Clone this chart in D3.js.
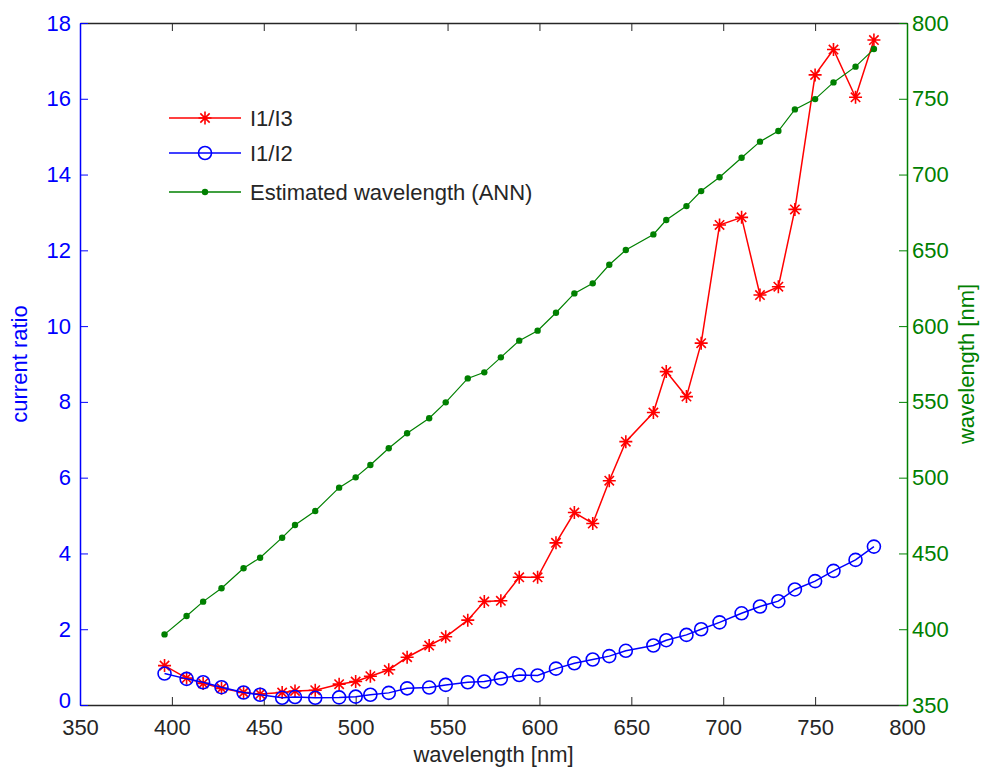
<!DOCTYPE html>
<html>
<head>
<meta charset="utf-8">
<script src="https://cdn.jsdelivr.net/npm/d3@7"></script>
<style>
  body { margin: 0; background: #fff; }
  svg { display: block; font-family: "Liberation Sans", Arial, sans-serif; }
</style>
</head>
<body>
<svg id="chart"></svg>
<script>
const width = 981;
const height = 769;
const margin = { top: 23, right: 74, bottom: 64, left: 80 };

// measured wavelength (x) for every sample
const wavelength = [396, 408, 417, 427, 439, 448, 460, 467, 478, 491, 500, 508, 518,
    528, 540, 549, 561, 570, 579, 589, 599, 609, 619, 629, 638,
    647, 662, 669, 680, 688, 698, 710, 720, 730, 739, 750, 760, 772, 782];

const ratioI1I3 = [1.04, 0.71, 0.57, 0.44, 0.33, 0.29, 0.33, 0.37, 0.39, 0.55, 0.62, 0.76, 0.93,
    1.26, 1.57, 1.80, 2.24, 2.73, 2.75, 3.37, 3.37, 4.28, 5.08, 4.79, 5.92,
    6.95, 7.72, 8.80, 8.14, 9.55, 12.67, 12.87, 10.82, 11.04, 13.08, 16.63, 17.30, 16.04, 17.55];

const ratioI1I2 = [0.83, 0.69, 0.60, 0.47, 0.33, 0.27, 0.19, 0.21, 0.19, 0.20, 0.22, 0.27, 0.32,
    0.44, 0.46, 0.53, 0.60, 0.62, 0.70, 0.79, 0.78, 0.96, 1.10, 1.20, 1.29,
    1.43, 1.57, 1.71, 1.85, 2.00, 2.18, 2.42, 2.60, 2.74, 3.05, 3.27, 3.54, 3.83, 4.18];

const estimatedAnn = [396.6, 408.7, 418.2, 427.0, 440.2, 447.2, 460.4, 468.8, 478.0, 493.4, 500.2, 508.4, 519.4,
    529.3, 539.2, 549.7, 565.5, 569.5, 579.4, 590.4, 597.0, 608.8, 621.6, 628.2, 640.5,
    650.2, 660.5, 670.0, 679.2, 689.1, 698.2, 711.1, 721.7, 728.7, 743.0, 749.8, 760.8, 771.2, 782.8];

const xTicks = [350, 400, 450, 500, 550, 600, 650, 700, 750, 800];
const leftTicks = [0, 2, 4, 6, 8, 10, 12, 14, 16, 18];
const rightTicks = [350, 400, 450, 500, 550, 600, 650, 700, 750, 800];

const legendLabels = ["I1/I3", "I1/I2", "Estimated wavelength (ANN)"];

const red = "#ff0000", blue = "#0000ff", green = "#008000";
const axisBlack = "#262626";
const fontSize = "22px";

const svg = d3.select("#chart").attr("width", width).attr("height", height);

const x = d3.scaleLinear().domain([350, 800]).range([margin.left, width - margin.right]);
const yL = d3.scaleLinear().domain([0, 18]).range([height - margin.bottom, margin.top]);
const yR = d3.scaleLinear().domain([350, 800]).range([height - margin.bottom, margin.top]);

// Axes
const gBottom = svg.append("g")
    .attr("transform", `translate(0, ${height - margin.bottom})`)
    .call(d3.axisBottom(x).tickValues(xTicks).tickSizeInner(-8).tickSizeOuter(0).tickPadding(14));
gBottom.selectAll("path, line").attr("stroke", axisBlack);
gBottom.selectAll("text").attr("fill", axisBlack).style("font-size", fontSize);

const gTop = svg.append("g")
    .attr("transform", `translate(0, ${margin.top})`)
    .call(d3.axisTop(x).tickValues(xTicks).tickSizeInner(-8).tickSizeOuter(0).tickFormat(""));
gTop.selectAll("path, line").attr("stroke", axisBlack);

const gLeft = svg.append("g")
    .attr("transform", `translate(${margin.left}, 0)`)
    .call(d3.axisLeft(yL).tickValues(leftTicks).tickSizeInner(-8).tickSizeOuter(0).tickPadding(9));
gLeft.selectAll("path, line").attr("stroke", blue);
gLeft.selectAll("text").attr("fill", blue).style("font-size", fontSize);
// the "0" label sits just above the x tick labels, as in the original
gLeft.selectAll(".tick text").filter(d => d === 0).attr("dy", "0.1em");

const gRight = svg.append("g")
    .attr("transform", `translate(${width - margin.right}, 0)`)
    .call(d3.axisRight(yR).tickValues(rightTicks).tickSizeInner(-8).tickSizeOuter(0).tickPadding(5));
gRight.selectAll("path, line").attr("stroke", green);
gRight.selectAll("text").attr("fill", green).style("font-size", fontSize);

svg.selectAll(".domain").attr("stroke-width", 1.5);

// Titles
svg.append("text")
    .attr("x", (margin.left + width - margin.right) / 2)
    .attr("y", 762)
    .attr("text-anchor", "middle")
    .attr("fill", axisBlack)
    .style("font-size", fontSize)
    .text("wavelength [nm]");

svg.append("text")
    .attr("transform", `translate(27, ${(margin.top + height - margin.bottom) / 2}) rotate(-90)`)
    .attr("text-anchor", "middle")
    .attr("fill", blue)
    .style("font-size", fontSize)
    .text("current ratio");

svg.append("text")
    .attr("transform", `translate(974, ${(margin.top + height - margin.bottom) / 2}) rotate(-90)`)
    .attr("text-anchor", "middle")
    .attr("fill", green)
    .style("font-size", fontSize)
    .text("wavelength [nm]");

// Markers
const starPath = r => {
    const d = r * 0.72;
    return `M${-r},0L${r},0M0,${-r}L0,${r}M${-d},${-d}L${d},${d}M${-d},${d}L${d},${-d}`;
};

function drawStar(g, cx, cy) {
    g.append("path")
        .attr("transform", `translate(${cx},${cy})`)
        .attr("d", starPath(6.5))
        .attr("stroke", red)
        .attr("stroke-width", 1.6)
        .attr("fill", "none");
}
function drawCircle(g, cx, cy) {
    g.append("circle")
        .attr("cx", cx).attr("cy", cy).attr("r", 6.5)
        .attr("fill", "none")
        .attr("stroke", blue)
        .attr("stroke-width", 1.6);
}
function drawDot(g, cx, cy) {
    g.append("circle")
        .attr("cx", cx).attr("cy", cy).attr("r", 3.2)
        .attr("fill", green);
}

// Series
const lineL = d3.line().x(d => x(d[0])).y(d => yL(d[1]));
const lineR = d3.line().x(d => x(d[0])).y(d => yR(d[1]));

const redData = d3.zip(wavelength, ratioI1I3);
const blueData = d3.zip(wavelength, ratioI1I2);
const greenData = d3.zip(wavelength, estimatedAnn);

const gRed = svg.append("g");
gRed.append("path").datum(redData)
    .attr("d", lineL).attr("fill", "none").attr("stroke", red).attr("stroke-width", 1.5);
redData.forEach(d => drawStar(gRed, x(d[0]), yL(d[1])));

const gBlue = svg.append("g");
gBlue.append("path").datum(blueData)
    .attr("d", lineL).attr("fill", "none").attr("stroke", blue).attr("stroke-width", 1.5);
blueData.forEach(d => drawCircle(gBlue, x(d[0]), yL(d[1])));

const gGreen = svg.append("g");
gGreen.append("path").datum(greenData)
    .attr("d", lineR).attr("fill", "none").attr("stroke", green).attr("stroke-width", 1.2);
greenData.forEach(d => drawDot(gGreen, x(d[0]), yR(d[1])));

// Legend (no box)
const legendRows = [118, 153, 192];
const legendColors = [red, blue, green];
const markers = [drawStar, drawCircle, drawDot];
const legend = svg.append("g");
legendLabels.forEach((label, i) => {
    const y = legendRows[i];
    legend.append("line")
        .attr("x1", 169).attr("x2", 241)
        .attr("y1", y).attr("y2", y)
        .attr("stroke", legendColors[i])
        .attr("stroke-width", 1.5);
    markers[i](legend, 205, y);
    legend.append("text")
        .attr("x", 250)
        .attr("y", y + 8)
        .attr("fill", axisBlack)
        .style("font-size", fontSize)
        .text(label);
});
</script>
</body>
</html>
